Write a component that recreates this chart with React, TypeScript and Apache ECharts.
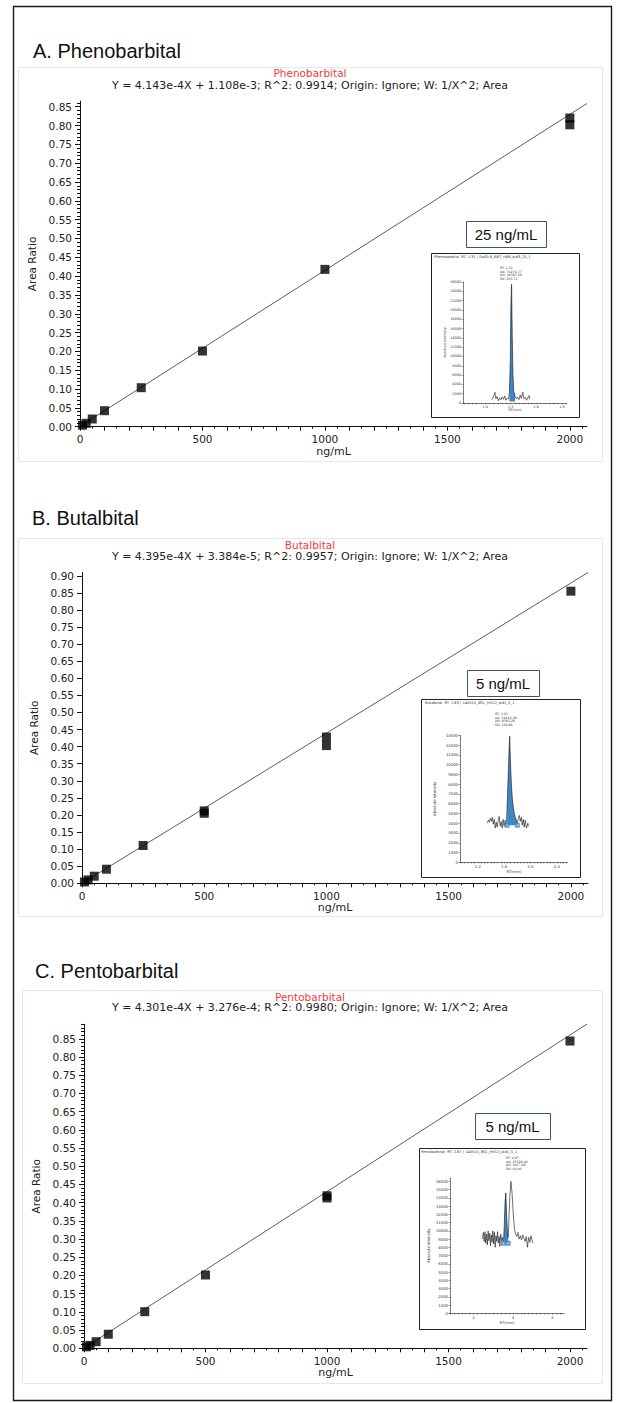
import React, { useEffect, useRef } from "react";
import * as echarts from "echarts";

// ---------------- data ----------------
const PANEL_TITLES = ["A. Phenobarbital", "B. Butalbital", "C. Pentobarbital"];
const ANALYTES = ["Phenobarbital", "Butalbital", "Pentobarbital"];
const EQUATIONS = [
  "Y = 4.143e-4X + 1.108e-3; R^2: 0.9914; Origin: Ignore; W: 1/X^2; Area",
  "Y = 4.395e-4X + 3.384e-5; R^2: 0.9957; Origin: Ignore; W: 1/X^2; Area",
  "Y = 4.301e-4X + 3.276e-4; R^2: 0.9980; Origin: Ignore; W: 1/X^2; Area",
];
const SLOPES = [4.143e-4, 4.395e-4, 4.301e-4];
const INTERCEPTS = [1.108e-3, 3.384e-5, 3.276e-4];

const CONC_A = [10, 25, 50, 100, 250, 500, 1000, 2000, 2000];
const RATIO_A = [0.004, 0.009, 0.0205, 0.0425, 0.1036, 0.201, 0.418, 0.802, 0.82];
const CONC_B = [10, 25, 50, 100, 250, 500, 500, 1000, 1000, 2000];
const RATIO_B = [0.004, 0.01, 0.0208, 0.0413, 0.1106, 0.205, 0.212, 0.428, 0.403, 0.855];
const CONC_C = [10, 25, 50, 100, 250, 500, 1000, 1000, 2000];
const RATIO_C = [0.004, 0.008, 0.0181, 0.0387, 0.1006, 0.2014, 0.413, 0.419, 0.844];

const X_MAX = 2070;
const X_TICK_LABELS = [0, 500, 1000, 1500, 2000];
const Y_MAX = [0.865, 0.91, 0.89];
const Y_LABEL_TOP = [0.85, 0.9, 0.85];
const Y_MINOR = [true, false, true];

// inset chromatograms
const INSET_LABELS = ["25 ng/mL", "5 ng/mL", "5 ng/mL"];
const INSET_TITLES = [
  "Phenobarbital  RT: 1.31 | Dx00-6_BBT_HBB_std3_25_1",
  "Butalbital  RT: 1.63 | 140515_BS1_HH12_std1_5_1",
  "Pentobarbital  RT: 2.87 | 140515_BS1_HH12_std1_5_1",
];
const INSET_NOTES = [
  "RT: 1.31\nAA: 74274.77\nAH: 26587.50\nSN: 255.71",
  "RT: 1.63\nAA: 54412.29\nAH: 8365.28\nSN: 150.86",
  "RT: 2.87\nAA: 25329.46\nAH: 6077.92\nSN: 66.06",
];
const INSET_X_LABELS = [
  [1.0, 1.3, 1.6, 1.9],
  [1.2, 1.6, 2.0, 2.4],
  [2, 3, 4],
];
const INSET_X_RANGE = [
  [0.74, 1.96],
  [0.93, 2.57],
  [1.4, 4.3],
];
const INSET_Y_MAX = [26000, 13000, 16400];
const INSET_Y_LABEL_TOP = [26000, 13000, 16000];
const INSET_Y_STEP = [2000, 1000, 1000];

const RT_A = [1.08, 1.095, 1.115, 1.125, 1.14, 1.155, 1.17, 1.185, 1.2, 1.215, 1.23, 1.245, 1.26, 1.275, 1.285, 1.295, 1.302, 1.31, 1.318, 1.326, 1.335, 1.35, 1.365, 1.38, 1.395, 1.41, 1.425, 1.44, 1.455, 1.47, 1.485, 1.5, 1.515, 1.525];
const INT_A = [700, 1200, 2300, 900, 1400, 500, 1100, 700, 1300, 800, 1500, 600, 1000, 900, 2500, 9000, 21000, 25500, 14000, 6000, 2500, 1500, 900, 1300, 700, 1700, 1000, 2300, 900, 1200, 600, 1100, 1600, 800];
const RT_B = [1.34, 1.36, 1.375, 1.39, 1.405, 1.42, 1.435, 1.45, 1.465, 1.48, 1.495, 1.51, 1.525, 1.54, 1.555, 1.57, 1.585, 1.6, 1.615, 1.63, 1.645, 1.66, 1.675, 1.685, 1.695, 1.71, 1.725, 1.74, 1.755, 1.77, 1.785, 1.8, 1.815, 1.83, 1.845, 1.86, 1.875, 1.89, 1.905, 1.92, 1.94, 1.96, 1.97];
const INT_B = [4000, 4300, 4100, 4500, 4200, 4600, 3900, 4400, 3500, 4100, 3600, 4300, 4700, 3700, 4200, 3500, 4400, 3700, 4300, 3600, 5500, 8500, 11500, 12900, 10500, 8000, 6500, 5600, 5000, 4600, 4300, 3900, 4500, 4800, 4200, 4600, 3800, 4400, 3600, 4300, 3500, 4000, 3700];
const RT_C = [2.22, 2.25, 2.27, 2.29, 2.31, 2.33, 2.35, 2.37, 2.39, 2.41, 2.43, 2.45, 2.47, 2.49, 2.51, 2.53, 2.55, 2.57, 2.59, 2.61, 2.63, 2.65, 2.67, 2.69, 2.71, 2.73, 2.75, 2.76, 2.78, 2.8, 2.82, 2.84, 2.86, 2.88, 2.9, 2.92, 2.95, 2.98, 3.01, 3.04, 3.07, 3.1, 3.13, 3.16, 3.19, 3.22, 3.25, 3.28, 3.31, 3.34, 3.37, 3.4, 3.43, 3.46, 3.49, 3.51];
const INT_C = [9000, 9800, 8700, 9900, 8500, 9600, 8300, 10000, 8800, 9700, 8200, 9500, 8600, 10000, 8400, 9800, 8000, 9400, 8700, 9900, 8500, 9300, 8100, 9600, 8800, 9200, 8700, 8600, 10500, 13500, 14600, 12000, 10000, 9200, 11500, 14000, 16000, 14500, 12000, 10200, 9600, 9300, 9800, 9000, 9400, 8900, 9500, 9100, 8700, 9300, 8000, 9200, 8600, 9400, 8800, 8500];
const CHROM_RT = [RT_A, RT_B, RT_C];
const CHROM_INT = [INT_A, INT_B, INT_C];
const PEAK_RANGE = [
  [1.285, 1.35],
  [1.645, 1.8],
  [2.76, 2.88],
];
const PEAK_BASE = [300, 3800, 8500];

// ---------------- layout (positions / sizes) ----------------
const LAYOUT = [
  {
    headingY: 51, headingX: 33, redY: 73, eqY: 85,
    box: [18, 67, 584, 394],
    grid: { left: 80, top: 101.1, width: 507, height: 325.6 },
    xNameGap: 19, yNameGap: 40,
    inset: { box: [431, 253, 148, 164], label: [466, 221, 80, 26], grid: { left: 463, top: 282, width: 104, height: 121 }, title: [434, 257], note: [500, 266], yNameGap: 15, xNameGap: 5, font: 3.4 },
  },
  {
    headingY: 518.3, headingX: 32, redY: 545, eqY: 556,
    box: [18, 538, 584, 378],
    grid: { left: 82, top: 572.4, width: 506, height: 310.9 },
    xNameGap: 17, yNameGap: 40,
    inset: { box: [421, 699, 159, 178], label: [467, 670, 72, 26], grid: { left: 460, top: 735.3, width: 108, height: 127 }, title: [425, 703], note: [495, 712], yNameGap: 24, xNameGap: 5, font: 3.8 },
  },
  {
    headingY: 971, headingX: 35, redY: 996.7, eqY: 1007.7,
    box: [22, 990, 580, 393],
    grid: { left: 84, top: 1024.3, width: 503, height: 324 },
    xNameGap: 19, yNameGap: 40,
    inset: { box: [419, 1148, 166, 181], label: [475, 1113, 75, 26], grid: { left: 450, top: 1178, width: 114, height: 135.3 }, title: [421, 1152], note: [506, 1156], yNameGap: 20, xNameGap: 5, font: 3.8 },
  },
];

const CHART_FONT = "DejaVu Sans";
const TITLE_FONT = "Liberation Sans";

function steps(a: number, b: number, s: number): number[] {
  const out: number[] = [];
  const n = Math.round((b - a) / s);
  for (let k = 0; k <= n; k++) out.push(+(a + k * s).toFixed(6));
  return out;
}

function buildOption() {
  const grids: any[] = [];
  const xAxes: any[] = [];
  const yAxes: any[] = [];
  const series: any[] = [];
  const graphics: any[] = [];

  graphics.push({
    type: "rect",
    shape: { x: 13.5, y: 6.5, width: 598, height: 1394 },
    style: { fill: "none", stroke: "#1a1a1a", lineWidth: 1.4 },
    silent: true,
  });

  const concs = [CONC_A, CONC_B, CONC_C];
  const ratios = [RATIO_A, RATIO_B, RATIO_C];

  for (let i = 0; i < 3; i++) {
    const L = LAYOUT[i];
    // panel frame + texts
    graphics.push({
      type: "rect",
      shape: { x: L.box[0] + 0.5, y: L.box[1] + 0.5, width: L.box[2], height: L.box[3] },
      style: { fill: "none", stroke: "#e1e8f0", lineWidth: 1 },
      silent: true,
    });
    graphics.push({
      type: "text", x: L.headingX, y: L.headingY,
      style: { text: PANEL_TITLES[i], fill: "#111", fontSize: 20, fontFamily: TITLE_FONT, textAlign: "left", textVerticalAlign: "middle" },
    });
    graphics.push({
      type: "text", x: 310, y: L.redY,
      style: { text: ANALYTES[i], fill: "#f23a3a", fontSize: 10.5, fontFamily: CHART_FONT, textAlign: "center", textVerticalAlign: "middle" },
    });
    graphics.push({
      type: "text", x: 310, y: L.eqY,
      style: { text: EQUATIONS[i], fill: "#222", fontSize: 11, fontFamily: CHART_FONT, textAlign: "center", textVerticalAlign: "middle" },
    });

    // main grid
    const g = grids.length;
    grids.push({ ...L.grid, containLabel: false });
    const xMaj = xAxes.length;
    xAxes.push({
      type: "value", gridIndex: g, min: 0, max: X_MAX, position: "bottom",
      name: "ng/mL", nameLocation: "middle", nameGap: L.xNameGap,
      nameTextStyle: { fontSize: 11, color: "#222", fontFamily: CHART_FONT },
      axisLine: { onZero: false, lineStyle: { color: "#111", width: 1 } },
      axisTick: { show: true, length: 4, customValues: steps(0, 2000, 100), lineStyle: { color: "#111" } },
      axisLabel: { customValues: X_TICK_LABELS, fontSize: 10.5, color: "#222", margin: 7, fontFamily: CHART_FONT, formatter: (v: number) => String(v) },
      splitLine: { show: false },
    });
    xAxes.push({
      type: "value", gridIndex: g, min: 0, max: X_MAX, position: "bottom",
      axisLine: { show: false },
      axisTick: { show: true, length: 2, customValues: steps(50, 2050, 100), lineStyle: { color: "#111" } },
      axisLabel: { show: false },
      splitLine: { show: false },
    });
    const yMaj = yAxes.length;
    yAxes.push({
      type: "value", gridIndex: g, min: 0, max: Y_MAX[i], position: "left",
      name: "Area Ratio", nameLocation: "middle", nameGap: L.yNameGap,
      nameTextStyle: { fontSize: 10.5, color: "#222", fontFamily: CHART_FONT },
      axisLine: { onZero: false, lineStyle: { color: "#111", width: 1 } },
      axisTick: { show: true, length: 5, customValues: steps(0, Y_LABEL_TOP[i], 0.05), lineStyle: { color: "#111" } },
      axisLabel: { customValues: steps(0, Y_LABEL_TOP[i], 0.05), fontSize: 10.5, color: "#222", margin: 8, fontFamily: CHART_FONT, formatter: (v: number) => v.toFixed(2) },
      splitLine: { show: false },
    });
    yAxes.push({
      type: "value", gridIndex: g, min: 0, max: Y_MAX[i], position: "left",
      axisLine: { show: false },
      axisTick: { show: Y_MINOR[i], length: 3, customValues: steps(0, Math.floor(Y_MAX[i] * 100 + 1e-6) / 100, 0.01), lineStyle: { color: "#111" } },
      axisLabel: { show: false },
      splitLine: { show: false },
    });

    series.push({
      type: "line", xAxisIndex: xMaj, yAxisIndex: yMaj, symbol: "none", silent: true,
      data: [[0, INTERCEPTS[i]], [X_MAX, SLOPES[i] * X_MAX + INTERCEPTS[i]]],
      lineStyle: { color: "#333", width: 0.8 }, z: 2,
    });
    series.push({
      type: "scatter", xAxisIndex: xMaj, yAxisIndex: yMaj, symbol: "rect", symbolSize: 9,
      data: concs[i].map((c, k) => [c, ratios[i][k]]),
      itemStyle: { color: "#000" }, z: 3,
    });

    // inset
    const I = L.inset;
    graphics.push({
      type: "rect",
      shape: { x: I.box[0] + 0.5, y: I.box[1] + 0.5, width: I.box[2], height: I.box[3] },
      style: { fill: "none", stroke: "#222", lineWidth: 1 },
      silent: true,
    });
    graphics.push({
      type: "rect",
      shape: { x: I.label[0] + 0.5, y: I.label[1] + 0.5, width: I.label[2], height: I.label[3] },
      style: { fill: "#fff", stroke: "#3b5570", lineWidth: 1 },
      silent: true,
    });
    graphics.push({
      type: "text", x: I.label[0] + I.label[2] / 2, y: I.label[1] + I.label[3] / 2 + 0.5,
      style: { text: INSET_LABELS[i], fill: "#111", fontSize: 15, fontFamily: TITLE_FONT, textAlign: "center", textVerticalAlign: "middle" },
    });
    graphics.push({
      type: "text", x: I.title[0], y: I.title[1],
      style: { text: INSET_TITLES[i], fill: "#333", fontSize: 3.6, fontFamily: CHART_FONT, textAlign: "left", textVerticalAlign: "middle" },
    });
    graphics.push({
      type: "text", x: I.note[0], y: I.note[1],
      style: { text: INSET_NOTES[i], fill: "#333", fontSize: 3.2, lineHeight: 3.6, fontFamily: CHART_FONT, textAlign: "left", textVerticalAlign: "top" },
    });

    const gi = grids.length;
    grids.push({ ...I.grid, containLabel: false });
    const xi = xAxes.length;
    const xr = INSET_X_RANGE[i];
    const tickStep = i === 2 ? 0.1 : 0.05;
    xAxes.push({
      type: "value", gridIndex: gi, min: xr[0], max: xr[1], position: "bottom",
      name: "RT(min)", nameLocation: "middle", nameGap: I.xNameGap,
      nameTextStyle: { fontSize: I.font, color: "#333", fontFamily: CHART_FONT },
      axisLine: { onZero: false, lineStyle: { color: "#222", width: 0.6, type: "dotted" } },
      axisTick: { show: true, length: 1.2, customValues: steps(Math.ceil(xr[0] / tickStep) * tickStep, Math.floor(xr[1] / tickStep) * tickStep, tickStep), lineStyle: { color: "#222", width: 0.5 } },
      axisLabel: { customValues: INSET_X_LABELS[i], fontSize: I.font, color: "#333", margin: 2, fontFamily: CHART_FONT, formatter: (v: number) => (i === 2 ? String(v) : v.toFixed(1)) },
      splitLine: { show: false },
    });
    const yi = yAxes.length;
    yAxes.push({
      type: "value", gridIndex: gi, min: 0, max: INSET_Y_MAX[i], position: "left",
      name: "Absolute Intensity", nameLocation: "middle", nameGap: I.yNameGap,
      nameTextStyle: { fontSize: I.font, color: "#333", fontFamily: CHART_FONT },
      axisLine: { onZero: false, lineStyle: { color: "#222", width: 0.6 } },
      axisTick: { show: true, length: 1.5, customValues: steps(0, INSET_Y_LABEL_TOP[i], INSET_Y_STEP[i]), lineStyle: { color: "#222", width: 0.5 } },
      axisLabel: { customValues: steps(0, INSET_Y_LABEL_TOP[i], INSET_Y_STEP[i]), fontSize: I.font, color: "#333", margin: 2, fontFamily: CHART_FONT, formatter: (v: number) => String(v) },
      splitLine: { show: false },
    });

    const pts = CHROM_RT[i].map((r, k) => [r, CHROM_INT[i][k]]);
    const pr = PEAK_RANGE[i];
    const fillPts = pts.filter((p) => p[0] >= pr[0] - 1e-9 && p[0] <= pr[1] + 1e-9);
    series.push({
      type: "line", xAxisIndex: xi, yAxisIndex: yi, symbol: "none", silent: true,
      data: fillPts,
      lineStyle: { width: 0 },
      areaStyle: { color: "#3f86c6", opacity: 1, origin: PEAK_BASE[i] },
      z: 2,
    });
    series.push({
      type: "line", xAxisIndex: xi, yAxisIndex: yi, symbol: "none", silent: true,
      data: pts,
      lineStyle: { color: "#111", width: 0.6 },
      z: 3,
    });
    if (i > 0) {
      series.push({
        type: "scatter", xAxisIndex: xi, yAxisIndex: yi, symbol: "emptyRect", symbolSize: 3, silent: true,
        data: [[pr[0], PEAK_BASE[i]], [pr[1], PEAK_BASE[i]]],
        itemStyle: { color: "#3f86c6", borderColor: "#3f86c6", borderWidth: 0.6 },
        z: 4,
      });
    }
  }

  return {
    animation: false,
    backgroundColor: "#fff",
    textStyle: { fontFamily: CHART_FONT },
    grid: grids,
    xAxis: xAxes,
    yAxis: yAxes,
    series,
    graphic: { elements: graphics },
  };
}

export default function App() {
  const ref = useRef<HTMLDivElement>(null);
  useEffect(() => {
    document.body.style.margin = "0";
    if (!ref.current) return;
    const chart = echarts.init(ref.current, undefined, { renderer: "svg" });
    chart.setOption(buildOption() as any);
    return () => chart.dispose();
  }, []);
  return <div ref={ref} style={{ width: 617, height: 1403, background: "#fff" }} />;
}
